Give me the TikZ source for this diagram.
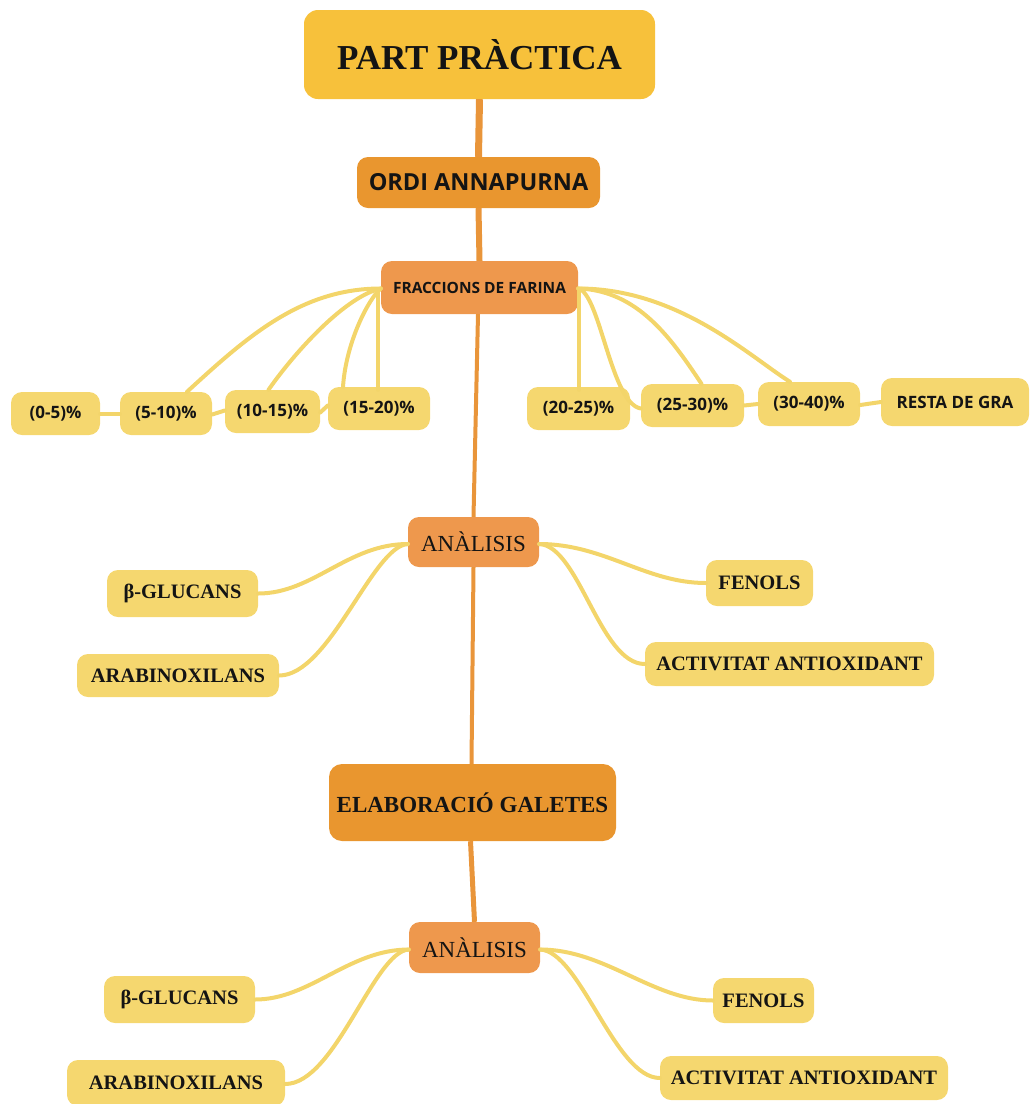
\documentclass[tikz,border=0pt]{standalone}
\usepackage{fontspec}
\setmainfont{Liberation Serif}
\newfontfamily\osans{Open Sans}
\definecolor{partc}{HTML}{F7C13B}
\definecolor{darkor}{HTML}{E9962F}
\definecolor{lightor}{HTML}{EE984D}
\definecolor{yel}{HTML}{F5D76F}
\definecolor{yline}{HTML}{F3D56A}
\definecolor{trunk}{HTML}{E9953A}
\definecolor{txt}{HTML}{141414}
\tikzset{
  box/.style={rounded corners=11pt, inner sep=0pt, align=center, text=txt},
  ybox/.style={box, fill=yel},
  pct/.style={ybox, font=\osans\bfseries\fontsize{17}{20}\selectfont},
  sbold/.style={ybox, font=\bfseries\fontsize{20.5}{24}\selectfont},
  yl/.style={draw=yline, line width=4pt, line cap=round},
  tr/.style={draw=trunk, line cap=butt},
}
\begin{document}
\begin{tikzpicture}[x=1pt,y=-1pt]
\useasboundingbox (0,0) rectangle (1029,1104);

% main nodes
\node[box, fill=partc, minimum width=351pt, minimum height=89pt, rounded corners=14pt,
      font=\bfseries\fontsize{35}{40}\selectfont] (part) at (479.5,54.5) {PART PRÀCTICA};
\node[box, fill=darkor, minimum width=243pt, minimum height=51pt,
      font=\osans\bfseries\fontsize{23.5}{28}\selectfont] (ordi) at (478.5,182.5) {ORDI ANNAPURNA};
\node[box, fill=lightor, minimum width=197pt, minimum height=53pt,
      font=\osans\bfseries\fontsize{15.5}{18}\selectfont] (frac) at (479.5,287.5) {FRACCIONS DE FARINA};

% percentage nodes
\node[pct, minimum width=89pt, minimum height=43pt] (p1) at (55.5,413.5) {(0-5)\%};
\node[pct, minimum width=92pt, minimum height=43pt] (p2) at (166,413.5) {(5-10)\%};
\node[pct, minimum width=95pt, minimum height=43pt] (p3) at (272.5,411.5) {(10-15)\%};
\node[pct, minimum width=102pt, minimum height=43pt] (p4) at (379,408.5) {(15-20)\%};
\node[pct, minimum width=103pt, minimum height=43pt] (p5) at (578.5,408.5) {(20-25)\%};
\node[pct, minimum width=103pt, minimum height=43pt] (p6) at (692.5,405.5) {(25-30)\%};
\node[pct, minimum width=102pt, minimum height=44pt] (p7) at (809,404) {(30-40)\%};
\node[pct, minimum width=148pt, minimum height=48pt] (p8) at (955,402) {RESTA DE GRA};

% first analysis
\node[box, fill=lightor, minimum width=131pt, minimum height=50pt,
      font=\fontsize{23}{26}\selectfont] (an1) at (473.5,542) {ANÀLISIS};
\node[sbold, minimum width=151pt, minimum height=47pt] (bg1) at (182.5,593.5) {β-GLUCANS};
\node[sbold, minimum width=202pt, minimum height=43pt] (ar1) at (178,675.5) {ARABINOXILANS};
\node[sbold, minimum width=107pt, minimum height=46pt] (fe1) at (759.5,583) {FENOLS};
\node[sbold, minimum width=289pt, minimum height=44pt] (ac1) at (789.5,664) {ACTIVITAT ANTIOXIDANT};

% cookies
\node[box, fill=darkor, minimum width=287pt, minimum height=77pt, rounded corners=13pt,
      font=\bfseries\fontsize{23}{26}\selectfont] (elab) at (472.5,802.5) {ELABORACIÓ GALETES};

% second analysis
\node[box, fill=lightor, minimum width=131pt, minimum height=51pt,
      font=\fontsize{23}{26}\selectfont] (an2) at (474.5,947.5) {ANÀLISIS};
\node[sbold, minimum width=151pt, minimum height=47pt] (bg2) at (179.5,999.5) {β-GLUCANS};
\node[sbold, minimum width=218pt, minimum height=46pt] (ar2) at (176,1083) {ARABINOXILANS};
\node[sbold, minimum width=101pt, minimum height=45pt] (fe2) at (763.5,1000.5) {FENOLS};
\node[sbold, minimum width=288pt, minimum height=44pt] (ac2) at (804,1078) {ACTIVITAT ANTIOXIDANT};

% trunk connectors
\draw[tr, line width=7pt] (part.south) -- (ordi.north);
\draw[tr, line width=6pt] (ordi.south) -- (frac.north);
\draw[tr, line width=4pt] ([xshift=-1.5pt]frac.south) -- (an1.north);
\draw[tr, line width=4pt] (an1.south) -- ([xshift=-1pt]elab.north);
\draw[tr, line width=5pt] ([xshift=-2pt]elab.south) -- (an2.north);

% fraction connectors, left
\coordinate (fl) at ([yshift=-1pt]frac.west);
\draw[yl] (fl) .. controls +(-80,0) and +(60,-55) .. ([xshift=21pt]p2.north);
\draw[yl] (fl) .. controls +(-35,8) and +(28,-40) .. ([xshift=-4pt]p3.north);
\draw[yl] (fl) .. controls +(-12,10) and +(3,-45) .. ([xshift=-36pt]p4.north);
\draw[yl] ([xshift=-3pt,yshift=-3pt]frac.west) -- ([xshift=-3pt,yshift=-3pt]frac.west |- p4.north);
\draw[yl] (p1.east) -- (p2.west);
\draw[yl] ([yshift=-1pt]p2.east) -- ([yshift=1pt]p3.west);
\draw[yl] ([yshift=-1pt]p3.east) -- ([yshift=3pt]p4.west);

% fraction connectors, right
\coordinate (fr) at ([yshift=-1pt]frac.east);
\draw[yl] ([xshift=1pt,yshift=-3pt]frac.east) -- ([xshift=1pt,yshift=-3pt]frac.east |- p5.north);
\draw[yl] (fr) .. controls +(22,5) and +(-30,-5) .. ([yshift=-3pt]p6.west);
\draw[yl] (fr) .. controls +(60,2) and +(-30,-45) .. ([xshift=9pt]p6.north);
\draw[yl] (fr) .. controls +(100,0) and +(-40,-25) .. ([xshift=-19pt]p7.north);
\draw[yl] (p6.east) -- (p7.west);
\draw[yl] ([yshift=-1pt]p7.east) -- (p8.west);

% analysis 1 connectors
\draw[yl] ([yshift=-2pt]an1.west) .. controls +(-60,0) and +(55,0) .. (bg1.east);
\draw[yl] ([yshift=-2pt]an1.west) .. controls +(-35,2) and +(50,0) .. (ar1.east);
\draw[yl] ([yshift=-2pt]an1.east) .. controls +(65,0) and +(-60,0) .. (fe1.west);
\draw[yl] ([yshift=-2pt]an1.east) .. controls +(40,2) and +(-45,0) .. (ac1.west);

% analysis 2 connectors
\draw[yl] ([yshift=-2pt]an2.west) .. controls +(-60,0) and +(55,0) .. (bg2.east);
\draw[yl] ([yshift=-2pt]an2.west) .. controls +(-35,2) and +(50,0) .. ([yshift=-1pt]ar2.east);
\draw[yl] ([yshift=-2pt]an2.east) .. controls +(65,0) and +(-60,0) .. (fe2.west);
\draw[yl] ([yshift=-2pt]an2.east) .. controls +(40,2) and +(-45,0) .. (ac2.west);
\end{tikzpicture}
\end{document}
